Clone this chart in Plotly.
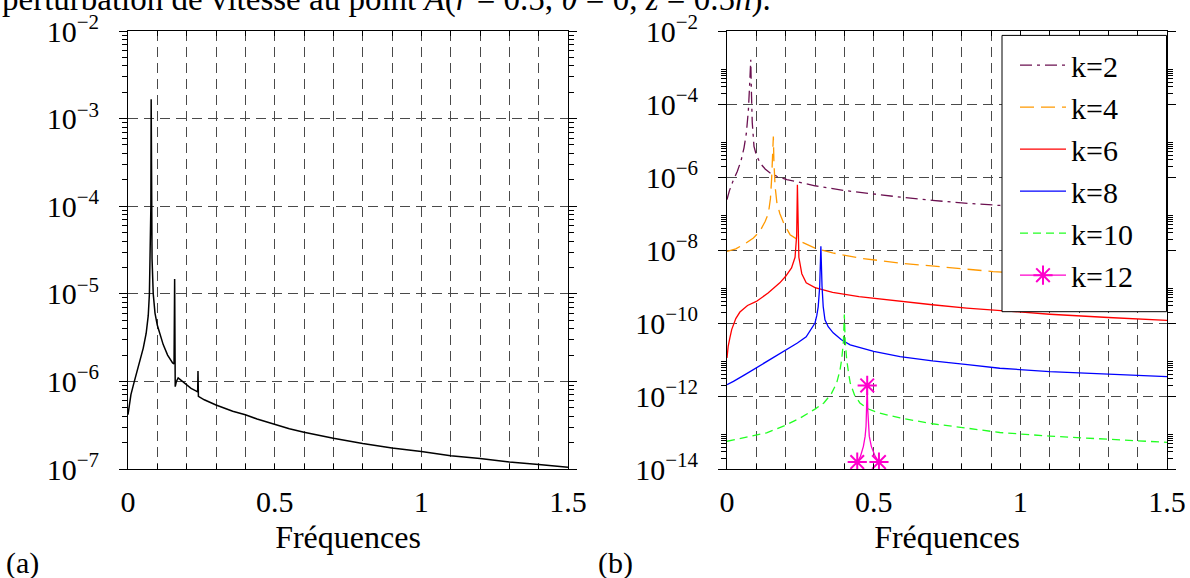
import plotly.graph_objects as go

# ---------------- data (log10 of the amplitude) ----------------
# (a) spectrum of the velocity perturbation
freq_a = [0.0, 0.004, 0.01, 0.02, 0.03, 0.04, 0.052, 0.062, 0.069, 0.073, 0.076, 0.078,
          0.079, 0.080, 0.082, 0.086, 0.092, 0.10, 0.11, 0.12, 0.135, 0.152, 0.157,
          0.159, 0.161, 0.165, 0.171, 0.185, 0.199, 0.215, 0.233, 0.2375, 0.2386,
          0.240, 0.26, 0.30, 0.357, 0.40, 0.44, 0.50, 0.55, 0.60, 0.70, 0.80, 0.90,
          1.0, 1.1, 1.2, 1.3, 1.4, 1.5]
logamp_a = [-6.38, -6.28, -6.15, -6.02, -5.90, -5.78, -5.62, -5.45, -5.25, -5.00, -4.60,
            -4.00, -2.78, -4.00, -4.60, -5.00, -5.22, -5.36, -5.48, -5.58, -5.70, -5.79,
            -5.80, -4.83, -6.06, -6.00, -5.96, -6.00, -6.04, -6.08, -6.11, -6.12, -5.88,
            -6.17, -6.21, -6.27, -6.34, -6.38, -6.43, -6.49, -6.54, -6.58, -6.65, -6.71,
            -6.76, -6.80, -6.85, -6.88, -6.92, -6.95, -6.98]

# (b) contribution of each mode k
freq_k2 = [0.0, 0.008, 0.02, 0.035, 0.048, 0.058, 0.066, 0.073, 0.077, 0.081, 0.083,
           0.086, 0.092, 0.10, 0.113, 0.13, 0.147, 0.17, 0.204, 0.25, 0.30, 0.40, 0.50,
           0.60, 0.70, 0.80, 0.93, 1.1, 1.3, 1.5]
logamp_k2 = [-6.62, -6.38, -6.12, -5.85, -5.55, -5.20, -4.80, -4.16, -3.50, -2.79, -3.60,
             -4.50, -5.16, -5.40, -5.62, -5.78, -5.89, -5.98, -6.07, -6.15, -6.24, -6.37,
             -6.47, -6.56, -6.64, -6.71, -6.78, -6.86, -6.93, -6.99]

freq_k4 = [0.0, 0.03, 0.065, 0.09, 0.112, 0.13, 0.141, 0.148, 0.152, 0.156, 0.158, 0.160,
           0.164, 0.17, 0.18, 0.195, 0.215, 0.249, 0.30, 0.36, 0.45, 0.59, 0.75, 0.907,
           1.1, 1.3, 1.5]
logamp_k4 = [-8.04, -7.97, -7.81, -7.67, -7.49, -7.22, -7.00, -6.60, -6.07, -5.40, -4.89,
             -5.60, -6.26, -6.70, -7.00, -7.30, -7.58, -7.76, -7.95, -8.08, -8.22, -8.36,
             -8.48, -8.59, -8.68, -8.77, -8.85]

freq_k6 = [0.0, 0.004, 0.01, 0.016, 0.03, 0.044, 0.07, 0.10, 0.14, 0.18, 0.20, 0.22,
           0.232, 0.2375, 0.240, 0.242, 0.245, 0.255, 0.27, 0.30, 0.36, 0.45, 0.59,
           0.70, 0.817, 0.93, 1.1, 1.3, 1.5]
logamp_k6 = [-10.96, -10.64, -10.40, -10.18, -9.88, -9.70, -9.52, -9.41, -9.18, -8.90,
             -8.72, -8.49, -8.20, -7.60, -6.21, -7.60, -8.20, -8.65, -8.90, -9.03, -9.16,
             -9.28, -9.41, -9.50, -9.59, -9.66, -9.76, -9.85, -9.93]

freq_k8 = [0.0, 0.022, 0.06, 0.10, 0.15, 0.20, 0.24, 0.27, 0.29, 0.30, 0.306, 0.311,
           0.316, 0.320, 0.324, 0.328, 0.334, 0.345, 0.362, 0.39, 0.42, 0.50, 0.59, 0.70,
           0.82, 0.93, 1.1, 1.3, 1.5]
logamp_k8 = [-11.69, -11.60, -11.42, -11.23, -11.00, -10.75, -10.55, -10.38, -10.15,
             -10.00, -9.80, -9.55, -9.00, -7.90, -9.00, -9.55, -9.91, -10.10, -10.27,
             -10.46, -10.60, -10.78, -10.92, -11.04, -11.14, -11.24, -11.33, -11.41,
             -11.47]

freq_k10 = [0.0, 0.06, 0.135, 0.20, 0.25, 0.30, 0.33, 0.355, 0.374, 0.385, 0.391, 0.397,
            0.400, 0.403, 0.408, 0.415, 0.42, 0.435, 0.453, 0.48, 0.52, 0.59, 0.70, 0.817,
            0.93, 1.1, 1.3, 1.5]
logamp_k10 = [-13.24, -13.14, -13.01, -12.80, -12.60, -12.36, -12.19, -11.95, -11.64,
              -11.30, -11.00, -10.50, -9.77, -10.50, -11.00, -11.40, -11.64, -11.98,
              -12.19, -12.35, -12.47, -12.60, -12.76, -12.88, -13.00, -13.10, -13.19,
              -13.27]

freq_k12 = [0.444, 0.455, 0.465, 0.471, 0.474, 0.476, 0.478, 0.480, 0.482, 0.485, 0.492,
            0.505, 0.518]
logamp_k12 = [-13.81, -13.65, -13.38, -13.10, -12.83, -12.40, -11.71, -12.40, -12.83,
              -13.10, -13.38, -13.65, -13.81]
# samples of the k=12 series that carry a marker
marked_k12 = [0.444, 0.478, 0.518]

mode_labels = ["k=2", "k=4", "k=6", "k=8", "k=10", "k=12"]
x_ticks = [0, 0.5, 1, 1.5]
x_ticklabels = ["0", "0.5", "1", "1.5"]
exp_a = [-7, -6, -5, -4, -3, -2]
exp_b = [-14, -12, -10, -8, -6, -4, -2]

# ---------------- styling ----------------
FONT = "Liberation Serif, Times New Roman, serif"
FS = 30
GRID = "#4a4a4a"
GRID_DASH = "10px,6px"
W, H = 1190, 578
TOP, BOTTOM = 31.3, 469.3
PLOT_H = BOTTOM - TOP


def py(pixel_y):
    """paper y coordinate of a pixel row"""
    return (BOTTOM - pixel_y) / PLOT_H


def sup_label(e):
    return "10<sup>\u2212%d</sup>" % (-e)


def amp(logs):
    return [10.0 ** v for v in logs]


fig = go.Figure()

fig.add_trace(go.Scatter(x=freq_a, y=amp(logamp_a), mode="lines", showlegend=False,
                         line=dict(color="black", width=1.5), xaxis="x", yaxis="y"))

styles = [
    dict(color="#6b1050", width=1.3, dash="12px,5px,3px,5px"),
    dict(color="#ff9900", width=1.3, dash="14px,7px"),
    dict(color="#ff0000", width=1.3),
    dict(color="#0000ff", width=1.3),
    dict(color="#22ff22", width=1.3, dash="8px,5px"),
]
series = [(freq_k2, logamp_k2), (freq_k4, logamp_k4), (freq_k6, logamp_k6),
          (freq_k8, logamp_k8), (freq_k10, logamp_k10)]
for (fx, fl), st, name in zip(series, styles, mode_labels):
    fig.add_trace(go.Scatter(x=fx, y=amp(fl), mode="lines", name=name, line=st,
                             legendgroup=name, xaxis="x2", yaxis="y2"))

K12_COLOR = "#ff00cc"
# k=12: continuous curve ...
fig.add_trace(go.Scatter(x=freq_k12, y=amp(logamp_k12), mode="lines",
                         name=mode_labels[5], legendgroup=mode_labels[5], showlegend=False,
                         line=dict(color=K12_COLOR, width=1.3), xaxis="x2", yaxis="y2"))
# ... with asterisks on the marked samples (gaps keep them unconnected)
mk_x, mk_y = [], []
for f, v in zip(freq_k12, logamp_k12):
    if f in marked_k12:
        mk_x += [f, None]
        mk_y += [10.0 ** v, None]
fig.add_trace(go.Scatter(x=mk_x, y=mk_y, mode="lines+markers", connectgaps=False,
                         name=mode_labels[5], legendgroup=mode_labels[5],
                         line=dict(color=K12_COLOR, width=1.3),
                         marker=dict(symbol="asterisk-open", size=16,
                                     line=dict(color=K12_COLOR, width=2)),
                         xaxis="x2", yaxis="y2"))


def x_axis(domain, anchor):
    return dict(domain=domain, anchor=anchor, range=[0, 1.5], tickmode="array",
                tickvals=x_ticks, ticktext=x_ticklabels, ticks="inside", ticklen=5,
                tickcolor="black", showline=True, linecolor="black", linewidth=1,
                mirror="ticks", zeroline=False, showgrid=True, gridcolor=GRID,
                griddash=GRID_DASH, gridwidth=1, ticklabelstandoff=6,
                tickfont=dict(family=FONT, size=FS, color="black"),
                title=dict(text="Fréquences", standoff=8,
                           font=dict(family=FONT, size=32, color="black")),
                minor=dict(dtick=0.1, tick0=0, ticks="inside", ticklen=5, tickcolor="black",
                           showgrid=True, gridcolor=GRID, griddash=GRID_DASH, gridwidth=1),
                automargin=False)


def y_axis(domain, anchor, exps, minor_vals):
    return dict(domain=domain, anchor=anchor, type="log", range=[exps[0], exps[-1]],
                tickmode="array", tickvals=[10.0 ** e for e in exps],
                ticktext=[sup_label(e) for e in exps], ticks="outside", ticklen=8,
                tickcolor="black", showline=True, linecolor="black", linewidth=1,
                mirror="ticks", zeroline=False, showgrid=True, gridcolor=GRID,
                griddash=GRID_DASH, gridwidth=1, ticklabelstandoff=14,
                tickfont=dict(family=FONT, size=FS, color="black"),
                minor=dict(tickmode="array", tickvals=minor_vals, ticks="outside",
                           ticklen=5, tickcolor="black", showgrid=False),
                automargin=False)


minor_a = [m * 10.0 ** e for e in range(-7, -2) for m in range(2, 10)]
minor_b = [m * 10.0 ** e for e in range(-14, -2, 2) for m in range(2, 10)]

fig.update_layout(
    width=W, height=H,
    margin=dict(l=0, r=0, t=TOP, b=H - BOTTOM, pad=0),
    paper_bgcolor="white", plot_bgcolor="white",
    font=dict(family=FONT, size=FS, color="black"),
    xaxis=x_axis([128 / W, 568 / W], "y"),
    yaxis=y_axis([0, 1], "x", exp_a, minor_a),
    xaxis2=x_axis([727 / W, 1167 / W], "y2"),
    yaxis2=y_axis([0, 1], "x2", exp_b, minor_b),
    legend=dict(x=1015 / W, xanchor="left", y=py(39.5), yanchor="top",
                bgcolor="rgba(0,0,0,0)", borderwidth=0,
                font=dict(family=FONT, size=FS, color="black"),
                itemwidth=46, tracegroupgap=0),
    showlegend=True,
)

# legend frame (white box over the curves, below the legend entries)
fig.add_shape(type="rect", xref="paper", yref="paper", x0=1002 / W, x1=1166.5 / W,
              y0=py(312), y1=py(35.7), fillcolor="white",
              line=dict(color="black", width=1), layer="above")

fig.add_annotation(
    text="perturbation de vitesse au point <i>A</i>(<i>r</i> = 0.5, <i>θ</i> = 0, "
         "<i>z</i> = 0.5<i>h</i>).",
    xref="paper", yref="paper", x=0, xanchor="left",
    y=py(0), yanchor="middle", showarrow=False,
    font=dict(family=FONT, size=33, color="black"))
fig.add_annotation(text="(a)", xref="paper", yref="paper", x=22 / W, xanchor="center",
                   y=py(563), yanchor="middle", showarrow=False,
                   font=dict(family=FONT, size=FS, color="black"))
fig.add_annotation(text="(b)", xref="paper", yref="paper", x=615 / W, xanchor="center",
                   y=py(563), yanchor="middle", showarrow=False,
                   font=dict(family=FONT, size=FS, color="black"))

fig.write_html("out.html")
